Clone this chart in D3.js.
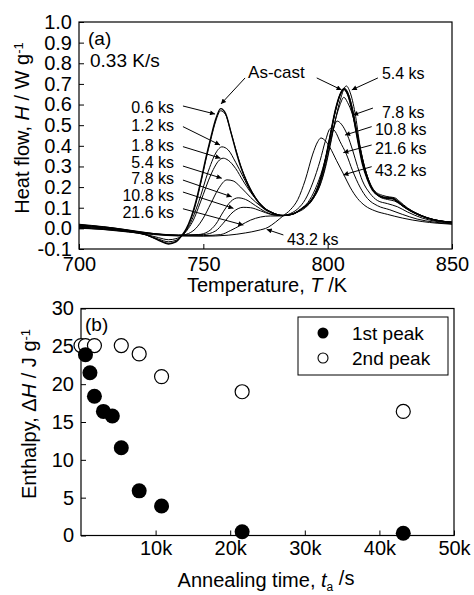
<!DOCTYPE html>
<html>
<head>
<meta charset="utf-8">
<script src="https://cdn.jsdelivr.net/npm/d3@7"></script>
<style>
  body { margin: 0; background: #fff; }
  svg { display: block; }
  text { font-family: "Liberation Sans", Arial, sans-serif; fill: #000; }
</style>
</head>
<body>
<div id="chart"></div>
<script>
// ---- (a) DSC traces, [T (K), H (W/g)] ----
var asCast = [[700,0.015],[710,0.006],[720,-0.01],[727,-0.03],[732,-0.058],[736,-0.076],[739,-0.066],[741,-0.04],[743,-0.005],[745,0.05],[747,0.13],[749,0.23],[751,0.34],[753,0.44],[755,0.53],[757,0.58],[759,0.555],[761,0.47],[763,0.38],[765,0.30],[768,0.21],[771,0.145],[774,0.10],[778,0.073],[782,0.062],[786,0.07],[790,0.10],[793,0.13],[795,0.17],[797,0.235],[799,0.33],[801,0.45],[803,0.57],[805,0.65],[806.5,0.675],[808,0.65],[810,0.56],[812,0.43],[814,0.31],[816,0.235],[818,0.185],[821,0.155],[824,0.146],[826,0.145],[828,0.13],[831,0.103],[835,0.075],[840,0.05],[845,0.036],[850,0.03]];
var ks06 = [[700,0.01],[710,0.002],[720,-0.012],[727,-0.032],[732,-0.056],[736,-0.072],[739,-0.063],[741,-0.04],[743,-0.008],[745,0.045],[747,0.12],[749,0.22],[751,0.33],[753,0.43],[755,0.52],[757,0.57],[759,0.55],[761,0.47],[763,0.385],[765,0.305],[768,0.215],[771,0.15],[774,0.105],[778,0.075],[782,0.062],[786,0.07],[790,0.098],[793,0.128],[795,0.168],[797,0.23],[799,0.325],[801,0.445],[803,0.565],[805,0.65],[806.7,0.68],[808.2,0.655],[810,0.575],[812,0.445],[814,0.32],[816,0.24],[818,0.19],[821,0.158],[824,0.15],[826,0.148],[828,0.135],[831,0.105],[835,0.077],[840,0.052],[845,0.037],[850,0.03]];
var ks12 = [[700,0.005],[710,-0.002],[720,-0.015],[727,-0.032],[732,-0.052],[736,-0.065],[739,-0.058],[741,-0.04],[743,-0.012],[745,0.03],[747,0.09],[749,0.16],[751,0.24],[753,0.31],[755,0.365],[757.5,0.395],[760,0.38],[763,0.32],[766,0.25],[769,0.18],[772,0.13],[775,0.095],[778,0.075],[782,0.062],[786,0.07],[790,0.1],[793,0.13],[795,0.17],[797,0.235],[799,0.33],[801,0.45],[803,0.565],[805,0.645],[806.5,0.672],[808,0.65],[810,0.56],[812,0.435],[814,0.32],[816,0.24],[818,0.188],[821,0.155],[824,0.145],[826,0.143],[828,0.128],[831,0.1],[835,0.073],[840,0.05],[845,0.036],[850,0.029]];
var ks18 = [[700,0.0],[710,-0.005],[720,-0.017],[727,-0.03],[732,-0.045],[736,-0.055],[739,-0.05],[742,-0.03],[744,0.0],[746,0.04],[748,0.1],[750,0.165],[752,0.23],[754,0.285],[756,0.325],[758,0.34],[760,0.33],[763,0.29],[766,0.23],[769,0.175],[772,0.13],[775,0.095],[778,0.075],[782,0.062],[786,0.068],[790,0.098],[793,0.128],[795,0.165],[797,0.228],[799,0.32],[801,0.44],[803,0.56],[805,0.645],[806.8,0.675],[808.3,0.652],[810,0.58],[812,0.455],[814,0.335],[816,0.25],[818,0.193],[821,0.157],[824,0.147],[826,0.146],[828,0.132],[831,0.104],[835,0.076],[840,0.051],[845,0.036],[850,0.029]];
var ks54 = [[700,0.02],[710,0.008],[720,-0.008],[728,-0.022],[735,-0.032],[740,-0.035],[744,-0.025],[747,0.0],[750,0.05],[753,0.12],[756,0.19],[759.5,0.235],[762,0.23],[765,0.2],[769,0.15],[773,0.108],[777,0.078],[781,0.062],[785,0.066],[789,0.088],[792,0.115],[795,0.16],[797,0.21],[799,0.29],[801,0.40],[803,0.52],[805,0.62],[807.5,0.69],[809,0.66],[811,0.56],[813,0.40],[815,0.29],[817,0.22],[819,0.18],[822,0.16],[825,0.152],[827,0.148],[829,0.13],[832,0.1],[836,0.072],[840,0.052],[845,0.037],[850,0.03]];
var ks78 = [[700,0.018],[710,0.006],[720,-0.01],[730,-0.025],[740,-0.032],[748,-0.03],[752,-0.015],[755,0.02],[758,0.08],[761,0.13],[764,0.148],[767,0.14],[771,0.11],[775,0.08],[779,0.065],[783,0.063],[787,0.075],[791,0.1],[794,0.14],[797,0.215],[799,0.3],[801,0.41],[803,0.52],[805,0.6],[806.5,0.635],[808,0.61],[810,0.55],[812,0.45],[814,0.34],[816,0.25],[818,0.19],[821,0.152],[824,0.14],[827,0.132],[830,0.11],[834,0.08],[840,0.05],[845,0.035],[850,0.028]];
var ks108 = [[700,0.012],[710,0.002],[720,-0.012],[730,-0.026],[740,-0.033],[750,-0.03],[755,-0.012],[758,0.025],[762,0.08],[766,0.102],[769,0.1],[773,0.085],[777,0.068],[781,0.062],[785,0.068],[789,0.09],[792,0.125],[795,0.19],[798,0.29],[800,0.38],[802,0.47],[803.8,0.52],[805.5,0.505],[808,0.45],[810,0.38],[812,0.3],[814,0.23],[817,0.17],[820,0.135],[824,0.12],[828,0.105],[832,0.08],[838,0.05],[844,0.033],[850,0.025]];
var ks216 = [[700,0.008],[710,-0.002],[720,-0.015],[730,-0.028],[740,-0.035],[750,-0.035],[757,-0.03],[761,-0.01],[765,0.015],[769,0.04],[773,0.055],[777,0.06],[781,0.06],[785,0.072],[788,0.095],[791,0.14],[794,0.22],[797,0.33],[799,0.42],[801.2,0.485],[803,0.47],[805,0.42],[807.5,0.36],[810,0.28],[813,0.2],[816,0.145],[820,0.11],[825,0.09],[830,0.068],[836,0.045],[843,0.03],[850,0.022]];
var ks432 = [[700,0.003],[710,-0.006],[720,-0.018],[730,-0.03],[740,-0.037],[750,-0.038],[760,-0.033],[767,-0.022],[772,-0.01],[776,0.005],[779,0.03],[782,0.06],[785,0.09],[788,0.14],[791,0.235],[794,0.36],[796,0.42],[797.3,0.438],[799,0.425],[801,0.39],[803.5,0.33],[806.5,0.26],[809,0.2],[812,0.145],[815,0.11],[819,0.085],[824,0.068],[830,0.05],[838,0.033],[844,0.025],[850,0.02]];
var traces = [asCast, ks06, ks12, ks18, ks54, ks78, ks108, ks216, ks432];

// annotations of (a): label, text anchor point, arrow start, arrow tip (data units)
var notesLeft = [
  ["0.6 ks", [738.2, 0.588], [741.8, 0.593], [754.7, 0.554]],
  ["1.2 ks", [738.2, 0.501], [741.8, 0.493], [756.7, 0.404]],
  ["1.8 ks", [738.2, 0.404], [741.8, 0.396], [756.9, 0.340]],
  ["5.4 ks", [738.2, 0.322], [741.8, 0.302], [757.4, 0.243]],
  ["7.8 ks", [738.2, 0.240], [741.8, 0.234], [761.4, 0.153]],
  ["10.8 ks", [738.2, 0.158], [741.8, 0.176], [762.1, 0.097]],
  ["21.6 ks", [738.2, 0.076], [741.8, 0.095], [766.1, 0.016]]
];
var notesRight = [
  ["5.4 ks", [821.8, 0.753], [820.2, 0.729], [809.7, 0.671]],
  ["7.8 ks", [821.8, 0.562], [818.2, 0.583], [810.2, 0.549]],
  ["10.8 ks", [819.0, 0.480], [817.7, 0.493], [807.0, 0.452]],
  ["21.6 ks", [819.0, 0.389], [817.7, 0.404], [806.3, 0.367]],
  ["43.2 ks", [819.0, 0.283], [817.7, 0.299], [806.3, 0.259]],
  ["43.2 ks", [783.6, -0.052], [782.2, -0.032], [775.5, -0.005]]
];
var asCastArrows = [[[766.8, 0.729], [757.1, 0.603]], [[795.6, 0.729], [805.6, 0.671]]];

// ---- (b) enthalpy vs annealing time ----
var tFirst = [600, 1200, 1800, 3000, 4200, 5400, 7800, 10800, 21600, 43200];
var hFirst = [23.9, 21.5, 18.4, 16.4, 15.8, 11.6, 5.9, 3.9, 0.5, 0.3];
var tSecond = [0, 600, 1800, 5400, 7800, 10800, 21600, 43200];
var hSecond = [25.1, 25.1, 25.1, 25.1, 24.0, 21.0, 19.0, 16.4];

var svg = d3.select("#chart").append("svg").attr("width", 474).attr("height", 595);
svg.append("defs").append("marker")
    .attr("id", "arr").attr("viewBox", "0 0 10 10")
    .attr("refX", 10).attr("refY", 5)
    .attr("markerWidth", 7).attr("markerHeight", 5)
    .attr("markerUnits", "userSpaceOnUse").attr("orient", "auto")
  .append("path").attr("d", "M0,0L10,5L0,10z").attr("fill", "#000");

function drawAxes(x, y, xMajor, xMinor, yMajor, yMinor, xFmt, yFmt, xPad) {
  var r = x.range(), b = y.range();
  var gx = svg.append("g").attr("transform", "translate(0," + b[0] + ")");
  gx.call(d3.axisBottom(x).tickValues(xMinor).tickSize(-3).tickFormat(""));
  gx.call(d3.axisBottom(x).tickValues(xMajor).tickSize(-5).tickPadding(xPad).tickFormat(xFmt));
  var gy = svg.append("g").attr("transform", "translate(" + r[0] + ",0)");
  gy.call(d3.axisLeft(y).tickValues(yMinor).tickSize(-3).tickFormat(""));
  gy.call(d3.axisLeft(y).tickValues(yMajor).tickSize(-5).tickPadding(7).tickFormat(yFmt));
  svg.selectAll(".domain").remove();
  svg.selectAll(".tick line").attr("stroke", "#000");
  svg.selectAll(".tick text").style("font-size", "20px").attr("fill", "#000");
  svg.append("rect").attr("x", r[0]).attr("y", b[1])
    .attr("width", r[1] - r[0]).attr("height", b[0] - b[1])
    .attr("fill", "none").attr("stroke", "#000").attr("stroke-width", 1.2);
}

// ---------- panel (a) ----------
var xa = d3.scaleLinear().domain([700, 850]).range([79, 452]);
var ya = d3.scaleLinear().domain([-0.1, 1.0]).range([249, 22]);
drawAxes(xa, ya, [700, 750, 800, 850], [725, 775, 825],
  d3.range(-1, 11).map(function(i) { return i / 10; }),
  d3.range(-1, 10).map(function(i) { return i / 10 + 0.05; }),
  function(d) { return d; }, function(d) { return d.toFixed(1); }, 8);

var line = d3.line().curve(d3.curveMonotoneX)
  .x(function(d) { return xa(d[0]); }).y(function(d) { return ya(d[1]); });
svg.append("g").selectAll("path").data(traces).enter().append("path")
  .attr("d", line).attr("fill", "none").attr("stroke", "#000")
  .attr("stroke-width", function(d, i) { return i === 0 ? 1.4 : 1; });

function arrow(p, q) {
  svg.append("line")
    .attr("x1", xa(p[0])).attr("y1", ya(p[1]))
    .attr("x2", xa(q[0])).attr("y2", ya(q[1]))
    .attr("stroke", "#000").attr("stroke-width", 1)
    .attr("marker-end", "url(#arr)");
}
notesLeft.forEach(function(n) {
  svg.append("text").attr("x", xa(n[1][0])).attr("y", ya(n[1][1])).attr("dy", "0.35em")
    .attr("text-anchor", "end").style("font-size", "16px").text(n[0]);
  arrow(n[2], n[3]);
});
notesRight.forEach(function(n) {
  svg.append("text").attr("x", xa(n[1][0])).attr("y", ya(n[1][1])).attr("dy", "0.35em")
    .style("font-size", "16px").text(n[0]);
  arrow(n[2], n[3]);
});
svg.append("text").attr("x", xa(768)).attr("y", ya(0.758)).attr("dy", "0.35em")
  .style("font-size", "17px").text("As-cast");
asCastArrows.forEach(function(a) { arrow(a[0], a[1]); });

svg.append("text").attr("x", 88).attr("y", 45).style("font-size", "19px").text("(a)");
svg.append("text").attr("x", 90).attr("y", 67).style("font-size", "19px").text("0.33 K/s");

svg.append("text").attr("x", 267).attr("y", 292).attr("text-anchor", "middle")
  .style("font-size", "20px")
  .html('Temperature, <tspan font-style="italic">T</tspan> /K');
var ta = svg.append("text").attr("transform", "translate(29,128) rotate(-90)")
  .attr("text-anchor", "middle").style("font-size", "20px");
ta.append("tspan").text("Heat flow, ");
ta.append("tspan").attr("font-style", "italic").text("H");
ta.append("tspan").text(" / W g");
ta.append("tspan").attr("dy", "-0.5em").style("font-size", "13px").text("-1");

// ---------- panel (b) ----------
var xb = d3.scaleLinear().domain([0, 50000]).range([81, 454]);
var yb = d3.scaleLinear().domain([0, 30]).range([535.5, 308.5]);
drawAxes(xb, yb, [10000, 20000, 30000, 40000, 50000], [5000, 15000, 25000, 35000, 45000],
  [0, 5, 10, 15, 20, 25, 30], [2.5, 7.5, 12.5, 17.5, 22.5, 27.5],
  function(d) { return (d / 1000) + "k"; }, function(d) { return d; }, 5);

svg.append("g").selectAll("circle").data(tSecond).enter().append("circle")
  .attr("cx", function(d) { return xb(d); })
  .attr("cy", function(d, i) { return yb(hSecond[i]); })
  .attr("r", 7).attr("fill", "#fff").attr("stroke", "#000").attr("stroke-width", 1.2);
svg.append("g").selectAll("circle").data(tFirst).enter().append("circle")
  .attr("cx", function(d) { return xb(d); })
  .attr("cy", function(d, i) { return yb(hFirst[i]); })
  .attr("r", 7.5).attr("fill", "#000");

svg.append("text").attr("x", 85).attr("y", 331).style("font-size", "19px").text("(b)");

var lg = svg.append("g");
lg.append("rect").attr("x", 298).attr("y", 317).attr("width", 150).attr("height", 58)
  .attr("fill", "#fff").attr("stroke", "#000").attr("stroke-width", 1);
lg.append("circle").attr("cx", 323).attr("cy", 333).attr("r", 5.5).attr("fill", "#000");
lg.append("circle").attr("cx", 323).attr("cy", 358).attr("r", 5)
  .attr("fill", "#fff").attr("stroke", "#000").attr("stroke-width", 1.1);
lg.append("text").attr("x", 352).attr("y", 333).attr("dy", "0.35em").style("font-size", "19px").text("1st peak");
lg.append("text").attr("x", 352).attr("y", 358).attr("dy", "0.35em").style("font-size", "19px").text("2nd peak");

var tb = svg.append("text").attr("x", 266).attr("y", 587).attr("text-anchor", "middle")
  .style("font-size", "20px");
tb.append("tspan").text("Annealing time, ");
tb.append("tspan").attr("font-style", "italic").text("t");
tb.append("tspan").attr("dy", "0.3em").style("font-size", "12px").text("a");
tb.append("tspan").attr("dy", "-0.3em").text(" /s");

var tc = svg.append("text").attr("transform", "translate(36,414) rotate(-90)")
  .attr("text-anchor", "middle").style("font-size", "20px");
tc.append("tspan").text("Enthalpy, \u0394");
tc.append("tspan").attr("font-style", "italic").text("H");
tc.append("tspan").text(" / J g");
tc.append("tspan").attr("dy", "-0.5em").style("font-size", "13px").text("-1");
</script>
</body>
</html>
